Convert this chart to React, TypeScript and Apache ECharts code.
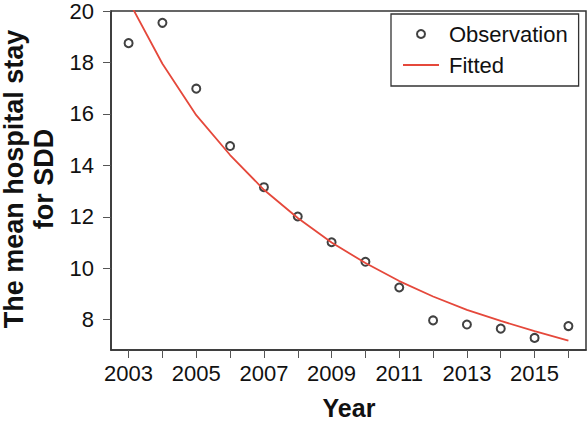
import React, { useEffect, useRef } from "react";
import * as echarts from "echarts";

const years = [2003, 2004, 2005, 2006, 2007, 2008, 2009, 2010, 2011, 2012, 2013, 2014, 2015, 2016];
const observation = [18.75, 19.54, 16.98, 14.75, 13.15, 12.01, 11.01, 10.25, 9.25, 7.97, 7.81, 7.65, 7.29, 7.75];
const fitted = [20.4, 17.95, 15.95, 14.4, 13.05, 11.95, 11.0, 10.2, 9.5, 8.9, 8.38, 7.95, 7.55, 7.18];
const xTickValues = [2003, 2004, 2005, 2006, 2007, 2008, 2009, 2010, 2011, 2012, 2013, 2014, 2015, 2016];
const xLabelValues = [2003, 2005, 2007, 2009, 2011, 2013, 2015];
const yTickValues = [8, 10, 12, 14, 16, 18, 20];

const FONT = "'Liberation Sans', Arial, Helvetica, sans-serif";

export default function App() {
  const ref = useRef<HTMLDivElement>(null);
  useEffect(() => {
    if (!ref.current) return;
    const chart = echarts.init(ref.current, null, { renderer: "svg" });
    const axisColor = "#333";
    const titleStyle = {
      font: `bold 27px ${FONT}`,
      fill: "#111",
      align: "center",
      verticalAlign: "middle",
    };
    chart.setOption({
      animation: false,
      backgroundColor: "#fff",
      textStyle: { fontFamily: FONT },
      grid: {
        left: 111,
        right: 2,
        top: 8,
        bottom: 71,
        show: true,
        borderColor: axisColor,
        borderWidth: 1.5,
        backgroundColor: "transparent",
      },
      xAxis: {
        type: "value",
        min: 2002.48,
        max: 2016.52,
        splitLine: { show: false },
        axisLine: { show: true, onZero: false, lineStyle: { color: axisColor, width: 1.5 } },
        axisTick: { show: true, length: 8, customValues: xTickValues, lineStyle: { color: "#555", width: 1 } },
        axisLabel: {
          customValues: xLabelValues,
          formatter: (v: number) => String(v),
          fontSize: 22,
          color: "#111",
          fontFamily: FONT,
          margin: 12,
        },
      },
      yAxis: {
        type: "value",
        min: 6.82,
        max: 20,
        splitLine: { show: false },
        axisLine: { show: true, onZero: false, lineStyle: { color: axisColor, width: 1.5 } },
        axisTick: { show: true, length: 8, customValues: yTickValues, lineStyle: { color: "#555", width: 1 } },
        axisLabel: {
          customValues: yTickValues,
          formatter: (v: number) => String(v),
          fontSize: 22,
          color: "#111",
          fontFamily: FONT,
          margin: 17,
        },
      },
      legend: {
        orient: "vertical",
        left: 391,
        top: 14,
        padding: [9, 11, 10, 11],
        itemGap: 9,
        itemWidth: 36,
        itemHeight: 8,
        borderColor: axisColor,
        borderWidth: 1.3,
        textStyle: { fontSize: 22, color: "#111", fontFamily: FONT, lineHeight: 22, padding: [0, 0, 0, 5] },
        data: [
          { name: "Observation" },
          { name: "Fitted", itemStyle: { opacity: 0 } },
        ],
      },
      graphic: [
        {
          type: "text",
          x: 13.5,
          y: 179,
          rotation: Math.PI / 2,
          style: { ...titleStyle, text: "The mean hospital stay" },
        },
        {
          type: "text",
          x: 44,
          y: 179,
          rotation: Math.PI / 2,
          style: { ...titleStyle, text: "for SDD" },
        },
        {
          type: "text",
          x: 349,
          y: 408,
          style: {
            text: "Year",
            font: `bold 25px ${FONT}`,
            fill: "#111",
            align: "center",
            verticalAlign: "middle",
          },
        },
      ],
      series: [
        {
          name: "Observation",
          type: "scatter",
          symbol: "emptyCircle",
          symbolSize: 8,
          itemStyle: { color: "#111", borderWidth: 1.8 },
          data: years.map((y, i) => [y, observation[i]]),
        },
        {
          name: "Fitted",
          type: "line",
          symbol: "none",
          clip: true,
          lineStyle: { color: "#e5483b", width: 1.8 },
          itemStyle: { color: "#e5483b" },
          data: years.map((y, i) => [y, fitted[i]]),
        },
      ],
    });
    return () => chart.dispose();
  }, []);
  return (
    <div
      ref={ref}
      style={{ position: "fixed", left: 0, top: 0, width: 588, height: 421 }}
    />
  );
}
